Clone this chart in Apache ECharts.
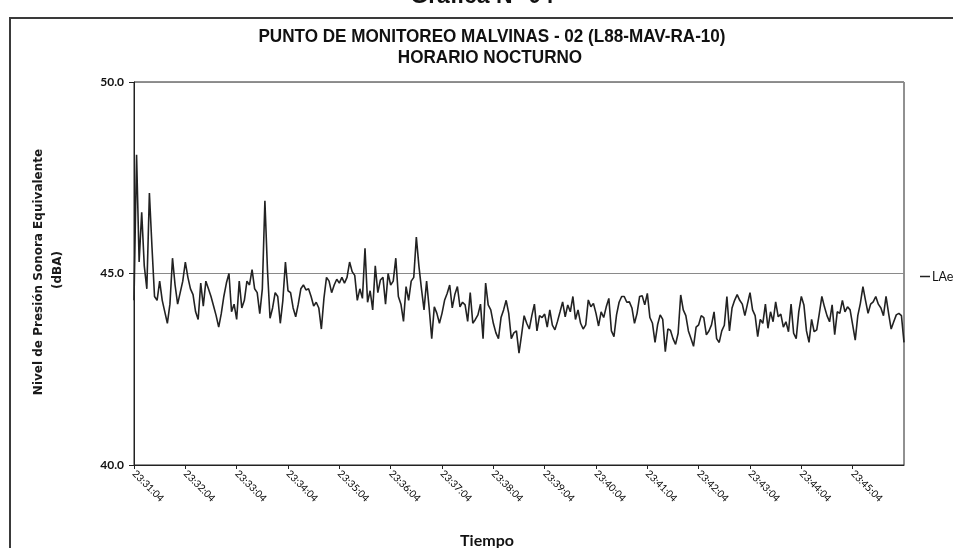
<!DOCTYPE html>
<html>
<head>
<meta charset="utf-8">
<script src="https://cdn.jsdelivr.net/npm/echarts@6/dist/echarts.min.js"></script>
<style>
  html, body { margin: 0; padding: 0; background: #ffffff; }
  #chart { width: 953px; height: 548px; }
</style>
</head>
<body>
<div id="chart"></div>
<script>
// LAeq readings, one every 3 seconds from 23:31:04 to 23:46:04 (dBA)
const laeqValues = [
  44.3, 48.1, 45.3, 46.6, 45.2, 44.6, 47.1, 45.7, 44.4, 44.3,
  44.8, 44.3, 44.0, 43.7, 44.2, 45.4, 44.7, 44.2, 44.5, 44.8,
  45.3, 44.9, 44.6, 44.45, 44.0, 43.8, 44.75, 44.15, 44.8, 44.6,
  44.4, 44.15, 43.9, 43.6, 43.95, 44.4, 44.75, 45.0, 44.0, 44.2,
  43.8, 44.8, 44.1, 44.3, 44.8, 44.7, 45.1, 44.6, 44.5, 43.95,
  44.6, 46.9, 45.1, 43.83, 44.1, 44.5, 44.4, 43.7, 44.3, 45.3,
  44.55, 44.5, 44.1, 43.87, 44.2, 44.6, 44.7, 44.57, 44.6, 44.4,
  44.15, 44.25, 44.1, 43.55, 44.35, 44.9, 44.8, 44.5, 44.7, 44.85,
  44.75, 44.9, 44.75, 44.9, 45.3, 45.05, 44.95, 44.3, 44.6, 44.35,
  45.66, 44.25, 44.55, 44.05, 45.2, 44.5, 44.83, 44.9, 44.2, 45.0,
  44.7, 44.8, 45.4, 44.4, 44.2, 43.75, 44.66, 44.3, 44.8, 44.9,
  45.95, 45.2, 44.6, 44.05, 44.8, 44.1, 43.3, 44.13, 43.96, 43.7,
  43.96, 44.3, 44.48, 44.7, 44.1, 44.45, 44.66, 44.13, 44.25, 44.18,
  43.75, 44.5, 43.7, 43.8, 43.92, 44.2, 43.3, 44.75, 44.18, 44.05,
  43.7, 43.45, 43.3, 43.85, 44.05, 44.3, 43.96, 43.3, 43.45, 43.5,
  42.92, 43.4, 43.9, 43.7, 43.55, 43.9, 44.2, 43.5, 43.9, 43.85,
  43.94, 43.6, 44.05, 43.65, 43.53, 43.75, 44.0, 44.26, 43.87, 44.18,
  44.0, 44.4, 43.8, 44.05, 43.7, 43.55, 43.66, 44.31, 44.13, 44.22,
  43.96, 43.63, 44.0, 43.85, 44.13, 44.35, 43.5, 43.35, 43.92, 44.25,
  44.4, 44.4, 44.25, 44.26, 44.1, 43.7, 43.96, 44.4, 44.42, 44.18,
  44.48, 43.85, 43.7, 43.2, 43.66, 43.92, 43.8, 42.96, 43.55, 43.52,
  43.3, 43.15, 43.44, 44.44, 44.05, 43.9, 43.5, 43.3, 43.1, 43.6,
  43.66, 43.9, 43.85, 43.4, 43.5, 43.66, 44.0, 43.3, 43.2, 43.5,
  43.65, 44.4, 43.5, 44.1, 44.3, 44.45, 44.3, 44.2, 43.9, 44.2,
  44.5, 44.05, 43.9, 43.35, 43.8, 43.7, 44.2, 43.57, 44.0, 43.74,
  44.26, 43.87, 43.94, 43.6, 43.74, 43.48, 44.2, 43.44, 43.3, 44.0,
  44.4, 44.18, 43.5, 43.2, 43.8, 43.48, 43.53, 43.95, 44.4, 44.13,
  43.9, 43.74, 44.18, 43.4, 44.0, 43.96, 44.3, 44.0, 44.13, 44.05,
  43.66, 43.26, 43.9, 44.22, 44.66, 44.3, 43.96, 44.2, 44.26, 44.4,
  44.2, 44.1, 43.9, 44.4, 43.96, 43.55, 43.74, 43.92, 43.96, 43.9, 43.2
];

// Sampling clock
const startTime = [23, 31, 4];
const stepSeconds = 3;
const samplesPerLabel = 20;     // one labelled tick per minute
const lastLabelIndex = 280;     // 23:45:04

// Y-axis scale
const yMin = 40;
const yMax = 50;
const yStep = 5;

const seriesName = 'LAeq';
const titleLine1 = 'PUNTO DE MONITOREO MALVINAS - 02 (L88-MAV-RA-10)';
const titleLine2 = 'HORARIO NOCTURNO';
const figureTitle = 'Gráfica N° 04';
const yTitle1 = 'Nivel de Presión Sonora Equivalente';
const yTitle2 = '(dBA)';
const xTitle = 'Tiempo';

function pad(n) { return (n < 10 ? '0' : '') + n; }
function timeLabel(index) {
  const t = startTime[0] * 3600 + startTime[1] * 60 + startTime[2] + index * stepSeconds;
  const h = Math.floor(t / 3600) % 24;
  const m = Math.floor(t / 60) % 60;
  const s = t % 60;
  return pad(h) + ':' + pad(m) + ':' + pad(s);
}
const categories = laeqValues.map((_, i) => timeLabel(i));

const showTick = (i) => i % samplesPerLabel === 0 && i <= lastLabelIndex;

const narrowBold = {
  fontFamily: '"Liberation Sans", Arial, sans-serif',
  fontWeight: 'bold',
  fontSize: 19,
  fill: '#111111',
  textAlign: 'center',
  textVerticalAlign: 'middle'
};

const chart = echarts.init(document.getElementById('chart'), null, { renderer: 'canvas' });
chart.setOption({
  animation: false,
  backgroundColor: '#ffffff',
  legend: {
    data: [{ name: seriesName, icon: 'rect' }],
    left: 915,
    top: 265,
    itemWidth: 10,
    itemHeight: 1.5,
    itemGap: 3,
    textStyle: { fontFamily: 'Lato, sans-serif', fontSize: 12.5, color: '#111111', padding: [0, 0, 0, -3] }
  },
  grid: {
    left: 134,
    right: 49,
    top: 82,
    bottom: 83,
    show: true,
    borderColor: '#222222',
    borderWidth: 1,
    backgroundColor: 'transparent'
  },
  xAxis: {
    type: 'category',
    data: categories,
    boundaryGap: false,
    axisLine: { lineStyle: { color: '#222222', width: 1 } },
    axisTick: { show: true, interval: (i) => showTick(i), length: 4, lineStyle: { color: '#222222' } },
    axisLabel: {
      interval: (i) => showTick(i),
      rotate: -45,
      margin: 7,
      fontFamily: 'Lato, sans-serif',
      fontSize: 10,
      color: '#000000'
    },
    splitLine: { show: false }
  },
  yAxis: {
    type: 'value',
    min: yMin,
    max: yMax,
    interval: yStep,
    axisLine: { show: true, lineStyle: { color: '#222222', width: 1 } },
    axisTick: { show: true, length: 5, lineStyle: { color: '#222222' } },
    axisLabel: {
      formatter: (v) => v.toFixed(1),
      margin: 10,
      fontFamily: 'Lato, sans-serif',
      fontWeight: 'bold',
      fontSize: 12,
      color: '#111111'
    },
    splitLine: { show: true, lineStyle: { color: '#8a8a8a', width: 1 } }
  },
  series: [{
    name: seriesName,
    type: 'line',
    data: laeqValues,
    showSymbol: false,
    symbol: 'none',
    lineStyle: { color: '#222222', width: 1.6 },
    itemStyle: { color: '#222222' }
  }],
  graphic: [
    {
      type: 'rect',
      shape: { x: 10, y: 18, width: 960, height: 560 },
      style: { fill: 'none', stroke: '#3a3a3a', lineWidth: 2 },
      silent: true
    },
    {
      type: 'text',
      x: 482,
      y: -15,
      style: {
        text: figureTitle,
        fontFamily: '"Liberation Sans", Arial, sans-serif',
        fontWeight: 'bold',
        fontSize: 23,
        fill: '#111111',
        textAlign: 'center',
        textVerticalAlign: 'top'
      }
    },
    { type: 'text', x: 492, y: 37, scaleX: 0.9, style: Object.assign({ text: titleLine1 }, narrowBold) },
    { type: 'text', x: 490, y: 58, scaleX: 0.9, style: Object.assign({ text: titleLine2 }, narrowBold) },
    {
      type: 'text',
      x: 39,
      y: 272,
      rotation: Math.PI / 2,
      style: {
        text: yTitle1,
        fontFamily: '"DejaVu Sans", sans-serif',
        fontWeight: 'bold',
        fontSize: 12,
        fill: '#1a1a1a',
        textAlign: 'center',
        textVerticalAlign: 'middle'
      }
    },
    {
      type: 'text',
      x: 58,
      y: 270,
      rotation: Math.PI / 2,
      style: {
        text: yTitle2,
        fontFamily: '"DejaVu Sans", sans-serif',
        fontWeight: 'bold',
        fontSize: 12,
        fill: '#1a1a1a',
        textAlign: 'center',
        textVerticalAlign: 'middle'
      }
    },
    {
      type: 'text',
      x: 487,
      y: 541,
      style: {
        text: xTitle,
        fontFamily: 'Lato, sans-serif',
        fontWeight: 'bold',
        fontSize: 16,
        fill: '#111111',
        textAlign: 'center',
        textVerticalAlign: 'middle'
      }
    }
  ]
});
</script>
</body>
</html>
